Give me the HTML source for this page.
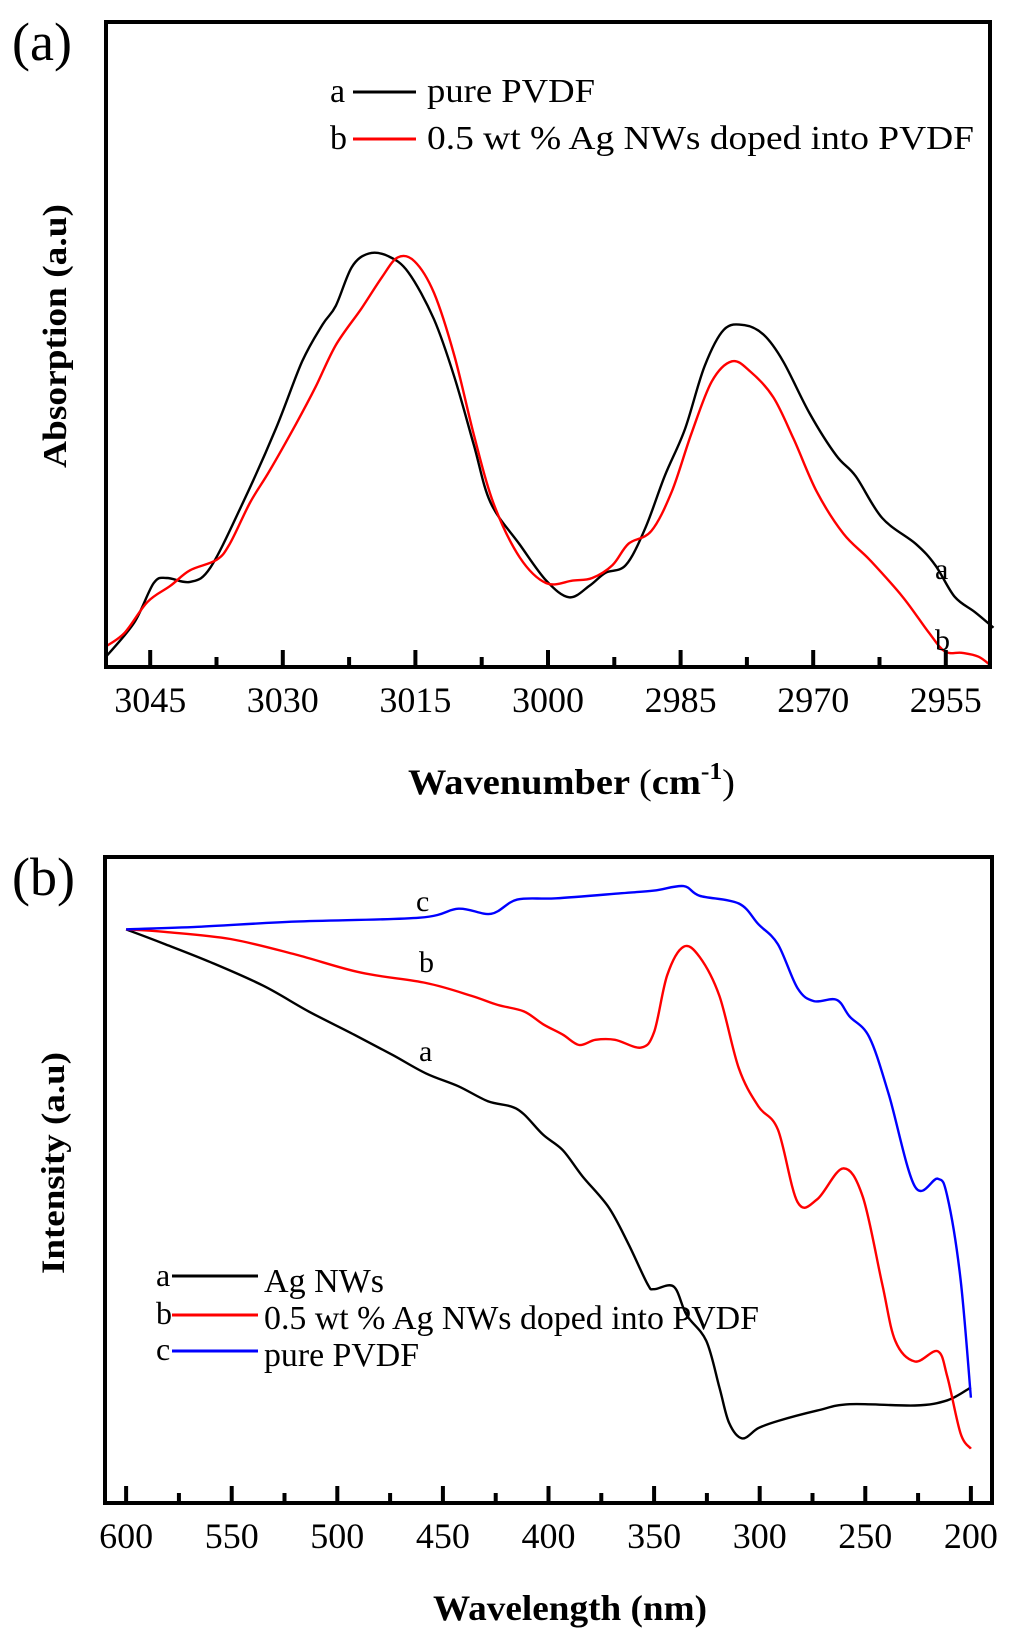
<!DOCTYPE html>
<html><head><meta charset="utf-8"><style>
html,body{margin:0;padding:0;background:#fff;}
svg{display:block;font-family:"Liberation Serif",serif;}
</style></head><body>
<svg id="chart" width="1024" height="1629" viewBox="0 0 1024 1629" xmlns="http://www.w3.org/2000/svg">
<g id="pa"></g>
<g id="pb"></g>
</svg>
<script>
// Panel (a) data
const aWave = [3050,3046.8,3044.6,3043.1,3040.5,3038.2,3034.5,3030.8,3027.8,3025.5,3024.0,3022.2,3020.3,3018.1,3015.8,3012.9,3010.6,3008.4,3006.5,3003.2,3000.2,2997.6,2995.3,2993.5,2991.2,2989.0,2986.8,2984.5,2982.3,2980.1,2977.8,2975.6,2973.4,2970.4,2967.4,2965.2,2962.2,2958.4,2956.2,2954.0,2951.7,2949.6];
const aPure = [1.6,6.9,13.0,13.8,13.2,15.4,25.5,36.9,47.4,53.1,56.0,62.0,64.1,63.7,61.2,53.9,45.0,34.5,25.5,19.0,13.4,10.8,12.6,14.6,15.8,21.5,29.6,36.9,46.6,52.3,53.0,51.5,47.4,39.3,32.8,29.6,23.1,19.1,15.8,10.9,8.5,6.1];
const aWaveB = [3050,3047.9,3045.3,3042.7,3040.5,3037.5,3036.0,3033.7,3031.5,3028.5,3026.3,3024.0,3021.1,3018.8,3017.0,3015.1,3012.9,3010.6,3008.4,3006.2,3003.2,3000.2,2997.2,2995.0,2992.7,2990.9,2988.3,2986.0,2983.8,2981.5,2979.2,2977.1,2974.5,2972.2,2969.6,2966.6,2963.6,2959.9,2956.9,2955.1,2953.2,2951.3,2949.9];
const aDoped = [3.2,5.3,10.1,12.6,15.0,16.6,19.1,25.5,30.4,37.7,43.4,49.9,55.6,60.4,63.5,62.9,58.0,48.3,36.1,25.5,17.0,13.0,13.4,13.8,15.8,19.1,21.1,27.2,36.1,44.2,47.4,45.8,41.8,35.3,27.2,20.7,16.6,10.9,5.3,2.4,2.2,1.6,0.2];
const aTicks = [3045,3030,3015,3000,2985,2970,2955];
// Panel (b) data
const bWaveA = [600,581.5,559.9,535.2,513.6,492.0,473.5,458.0,442.6,428.7,417.9,411.7,402.5,393.2,384.0,371.6,362.3,353.1,350.0,340.7,334.6,325.3,319.1,314.5,308.3,300.6,291.4,272.8,257.4,226.5,211.1,200];
const bAg = [88.8,86.5,83.7,80.1,76.1,72.5,69.3,66.5,64.5,62.2,61.4,60.2,57.0,54.6,50.6,45.8,40.2,33.9,33.1,33.5,29.1,25.1,17.9,12.4,10.0,11.6,12.7,14.3,15.3,15.1,15.9,17.9];
const bWaveB = [600,581.5,550.6,519.8,488.9,458.0,436.4,424.1,411.7,402.5,393.2,385.5,377.8,368.5,356.2,350.0,343.8,336.1,328.4,319.1,309.9,300.6,291.4,282.1,272.8,260.5,251.2,242.0,235.8,226.5,215.7,211.1,204.9,200];
const bDoped = [88.8,88.4,87.3,84.9,82.1,80.5,78.5,77.1,76.1,74.1,72.5,70.9,71.7,71.7,70.5,72.9,81.7,86.1,84.5,78.5,67.3,61.4,57.8,46.6,47.0,51.8,47.4,33.9,25.1,21.9,23.5,19.5,10.8,8.4];
const bWaveC = [600,566.0,519.8,461.1,442.6,427.2,414.8,396.3,365.4,350.0,336.1,328.4,309.9,300.6,291.4,282.1,274.4,263.6,257.4,248.1,238.9,226.5,215.7,211.1,204.9,200];
const bPure = [88.8,89.2,90.0,90.6,92.0,91.2,93.4,93.6,94.4,94.8,95.5,94.0,92.8,89.6,86.5,79.7,77.7,77.9,75.3,72.1,63.3,49.0,50.2,47.4,34.7,16.3];
const bTicks = [600,550,500,450,400,350,300,250,200];

const NS="http://www.w3.org/2000/svg";
function mk(parent,tag,attrs,text){const e=document.createElementNS(NS,tag);for(const k in attrs)e.setAttribute(k,attrs[k]);if(text!==undefined)e.textContent=text;parent.appendChild(e);return e;}
function smooth(pts){
  let d='M'+pts[0][0].toFixed(1)+','+pts[0][1].toFixed(1);
  for(let i=0;i<pts.length-1;i++){
    const p0=pts[i-1]||pts[i],p1=pts[i],p2=pts[i+1],p3=pts[i+2]||p2;
    const c1=[p1[0]+(p2[0]-p0[0])/6,p1[1]+(p2[1]-p0[1])/6];
    const c2=[p2[0]-(p3[0]-p1[0])/6,p2[1]-(p3[1]-p1[1])/6];
    d+='C'+c1[0].toFixed(1)+','+c1[1].toFixed(1)+' '+c2[0].toFixed(1)+','+c2[1].toFixed(1)+' '+p2[0].toFixed(1)+','+p2[1].toFixed(1);
  }
  return d;
}
function panel(g,cfg){
  const {L,R,T,B,x0,x1}=cfg;
  const sx=v=>L+(v-x0)/(x1-x0)*(R-L);
  const sy=v=>B-v/100*(B-T);
  cfg.series.forEach(s=>{
    const pts=s.x.map((v,i)=>[sx(v),sy(s.y[i])]);
    const p=mk(g,'path',{d:smooth(pts),fill:'none',stroke:s.color,'stroke-width':2.4,'stroke-linejoin':'round'});
    
    
  });
  const f=mk(g,'rect',{x:L,y:T,width:R-L,height:B-T,fill:'none',stroke:'#000','stroke-width':4});
  
  
  const step=cfg.ticks[1]-cfg.ticks[0];
  cfg.ticks.forEach((t,i)=>{
    const x=sx(t);
    const tk=mk(g,'line',{x1:x,x2:x,y1:B,y2:B-17,stroke:'#000','stroke-width':4});
    
    
    const lb=mk(g,'text',{x:x,y:B+45,'text-anchor':'middle','font-size':cfg.tickFont},String(t));
    
    
    const mx=sx(t+step/2);
    if(mx>L+3&&mx<R-3){
      const mt=mk(g,'line',{x1:mx,x2:mx,y1:B,y2:B-10,stroke:'#000','stroke-width':4});
      
      
    }
    if(i===0){const px=sx(t-step/2);if(px>L+3&&px<R-3){const mt=mk(g,'line',{x1:px,x2:px,y1:B,y2:B-10,stroke:'#000','stroke-width':4});
      
      }}
  });
}
const pa=document.getElementById('pa');
panel(pa,{L:106,R:990,T:22,B:667,x0:3050,x1:2950,ticks:aTicks,tickFont:36,
  series:[{x:aWave,y:aPure,color:'#000',name:'series-a-pure-pvdf'},{x:aWaveB,y:aDoped,color:'#f00',name:'series-b-doped-pvdf'}]});
const pb=document.getElementById('pb');
panel(pb,{L:105,R:992,T:857,B:1503,x0:610,x1:190,ticks:bTicks,tickFont:36,
  series:[{x:bWaveA,y:bAg,color:'#000',name:'series-a-ag-nws'},{x:bWaveB,y:bDoped,color:'#f00',name:'series-b-doped-pvdf'},{x:bWaveC,y:bPure,color:'#00f',name:'series-c-pure-pvdf'}]});
</script>
<svg style="position:absolute;left:0;top:0" width="1024" height="1629" xmlns="http://www.w3.org/2000/svg" font-family="Liberation Serif, serif">
<text x="12" y="60" font-size="54">(a)</text>
<text transform="translate(66,336) rotate(-90)" text-anchor="middle" font-size="34" font-weight="bold" textLength="264" lengthAdjust="spacingAndGlyphs">Absorption (a.u)</text>
<text x="408" y="794" font-size="36" textLength="327" lengthAdjust="spacingAndGlyphs"><tspan font-weight="bold">Wavenumber </tspan>(<tspan font-weight="bold">cm</tspan><tspan font-weight="bold" font-size="24" dy="-15">-1</tspan><tspan dy="15">)</tspan></text>
<g>
<text x="330" y="102" font-size="34">a</text>
<line x1="353" x2="416" y1="92" y2="92" stroke="#000" stroke-width="3"/>
<text x="427" y="102" font-size="34" textLength="168" lengthAdjust="spacingAndGlyphs">pure PVDF</text>
<text x="330" y="149" font-size="34">b</text>
<line x1="353" x2="416" y1="139" y2="139" stroke="#f00" stroke-width="3"/>
<text x="427" y="149" font-size="34" textLength="547" lengthAdjust="spacingAndGlyphs">0.5 wt % Ag NWs doped into PVDF</text>
</g>
<text x="935" y="579" font-size="30">a</text>
<text x="935" y="650" font-size="30">b</text>

<text x="12" y="895" font-size="54">(b)</text>
<text transform="translate(64,1163) rotate(-90)" text-anchor="middle" font-size="33" font-weight="bold" textLength="222" lengthAdjust="spacingAndGlyphs">Intensity (a.u)</text>
<text x="433" y="1620" font-size="36" font-weight="bold" textLength="274" lengthAdjust="spacingAndGlyphs">Wavelength (nm)</text>
<text x="416" y="911" font-size="30">c</text>
<text x="419" y="972" font-size="30">b</text>
<text x="419" y="1061" font-size="30">a</text>
<g>
<text x="156" y="1286" font-size="32">a</text>
<line x1="172" x2="258" y1="1276" y2="1276" stroke="#000" stroke-width="3"/>
<text x="264" y="1292" font-size="34" textLength="120" lengthAdjust="spacingAndGlyphs">Ag NWs</text>
<text x="156" y="1324" font-size="32">b</text>
<line x1="172" x2="258" y1="1315" y2="1315" stroke="#f00" stroke-width="3"/>
<text x="264" y="1329" font-size="34" textLength="495" lengthAdjust="spacingAndGlyphs">0.5 wt % Ag NWs doped into PVDF</text>
<text x="156" y="1360" font-size="32">c</text>
<line x1="172" x2="258" y1="1351" y2="1351" stroke="#00f" stroke-width="3"/>
<text x="264" y="1366" font-size="34" textLength="155" lengthAdjust="spacingAndGlyphs">pure PVDF</text>
</g>
</svg>
</body></html>
